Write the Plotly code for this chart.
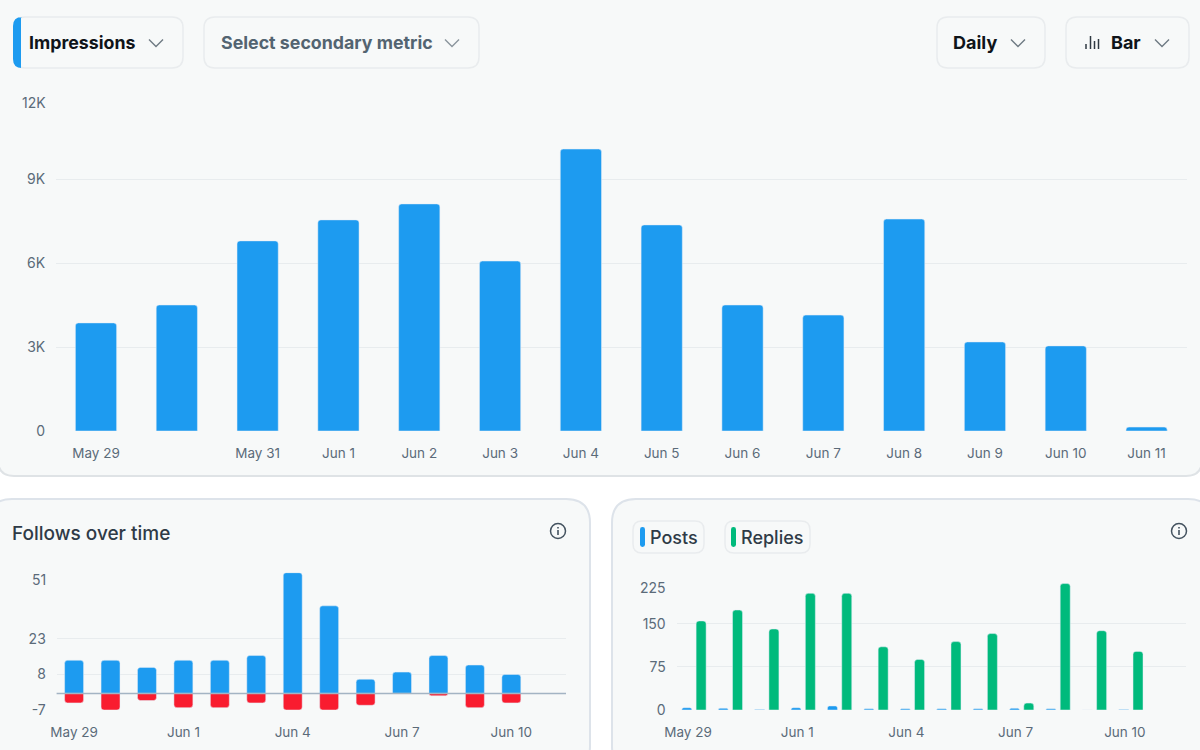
import plotly.graph_objects as go

W = 1200
H = 750

days = ["May 29", "May 30", "May 31", "Jun 1", "Jun 2", "Jun 3", "Jun 4",
        "Jun 5", "Jun 6", "Jun 7", "Jun 8", "Jun 9", "Jun 10", "Jun 11"]

impressions = [3860, 4500, 6790, 7540, 8110, 6070, 10070,
               7360, 4500, 4140, 7570, 3180, 3040, 140]
main_ticks = [d for d in days if d != "May 30"]
main_yticks = [0, 3000, 6000, 9000, 12000]
main_ylabels = ["0", "3K", "6K", "9K", ""]

follows = [14, 14, 11, 14, 14, 16, 51, 37, 6, 9, 16, 12, 8]
unfollows = [-4, -7, -3, -6, -6, -4, -7, -7, -5, 0, -1, -6, -4]
follows_yticks = [-7, 8, 23, 51]
follows_ylabels = ["-7", "8", "23", ""]

posts = [4, 3, 1, 4, 7, 2, 2, 2, 2, 3, 2, 0, 1]
replies = [155, 174, 141, 203, 203, 110, 88, 119, 133, 12, 220, 138, 102]
posts_yticks = [0, 75, 150, 225]
posts_ylabels = ["0", "75", "150", ""]
small_ticks = ["May 29", "Jun 1", "Jun 4", "Jun 7", "Jun 10"]

BLUE = "#1d9bf0"
RED = "#f91c2f"
GREEN = "#00ba7c"
PANEL = "#f7f9f9"
EDGE = "#e9ecee"
GRID = "#e8ecee"
GREY = "#5b6b79"
DARK = "#0f1419"
SLATE = "#2f3b47"
FONT = "Inter"


def px(x):
    return x / W


def py(y):
    return 1 - y / H


def rounded(x0, y0, x1, y1, r):
    # rounded rectangle path, pixel input, paper output
    return (
        f"M {px(x0 + r)} {py(y0)} L {px(x1 - r)} {py(y0)} "
        f"Q {px(x1)} {py(y0)} {px(x1)} {py(y0 + r)} L {px(x1)} {py(y1 - r)} "
        f"Q {px(x1)} {py(y1)} {px(x1 - r)} {py(y1)} L {px(x0 + r)} {py(y1)} "
        f"Q {px(x0)} {py(y1)} {px(x0)} {py(y1 - r)} L {px(x0)} {py(y0 + r)} "
        f"Q {px(x0)} {py(y0)} {px(x0 + r)} {py(y0)} Z"
    )


def box(x0, y0, x1, y1, r, fill, line=EDGE, lw=1.5):
    return dict(type="path", xref="paper", yref="paper", path=rounded(x0, y0, x1, y1, r),
                fillcolor=fill, line=dict(color=line, width=lw), layer="below")


def chevron(cx, cy, color="#6f7a83"):
    path = (f"M {px(cx - 7)} {py(cy - 3.5)} L {px(cx)} {py(cy + 3.5)} "
            f"L {px(cx + 7)} {py(cy - 3.5)}")
    return dict(type="path", xref="paper", yref="paper", path=path,
                line=dict(color=color, width=1.4))


def vline(x, y0, y1, color, width):
    return dict(type="line", xref="paper", yref="paper", x0=px(x), x1=px(x),
                y0=py(y0), y1=py(y1), line=dict(color=color, width=width))


def label(x, y, text, size, color, weight=400, anchor="left"):
    return dict(xref="paper", yref="paper", x=px(x), y=py(y), text=text, showarrow=False,
                xanchor=anchor, yanchor="middle", align=anchor,
                font=dict(family=FONT, size=size, color=color, weight=weight))


def info_icon(cx, cy):
    return [
        dict(type="circle", xref="paper", yref="paper", x0=px(cx - 7.5), x1=px(cx + 7.5),
             y0=py(cy - 7.5), y1=py(cy + 7.5), line=dict(color="#43525f", width=1.5)),
        vline(cx, cy - 1, cy + 4, "#43525f", 1.6),
        vline(cx, cy - 4, cy - 2.6, "#43525f", 1.6),
    ]


fig = go.Figure()

fig.add_bar(x=days, y=impressions, width=0.51, marker=dict(color=BLUE, cornerradius=3),
            xaxis="x", yaxis="y", showlegend=False)

fig.add_bar(x=days[:13], y=follows, width=0.52, marker=dict(color=BLUE, cornerradius=3),
            xaxis="x2", yaxis="y2", showlegend=False)
fig.add_bar(x=days[:13], y=unfollows, width=0.52, marker=dict(color=RED, cornerradius=3),
            xaxis="x2", yaxis="y2", showlegend=False)

fig.add_bar(x=days[:13], y=posts, width=0.275, offset=-0.334,
            marker=dict(color=BLUE, cornerradius=2), xaxis="x3", yaxis="y3", showlegend=False)
fig.add_bar(x=days[:13], y=replies, width=0.275, offset=0.0585,
            marker=dict(color=GREEN, cornerradius=3), xaxis="x3", yaxis="y3", showlegend=False)

x_font = dict(family=FONT, size=13.5, color=GREY)
y_font = dict(family=FONT, size=14, color=GREY)
x_common = dict(type="category", categoryorder="array", categoryarray=days, showgrid=False,
                zeroline=False, showline=False, tickmode="array", ticks="outside",
                ticklen=10, tickcolor="rgba(0,0,0,0)", tickfont=x_font, fixedrange=True,
                automargin=False)
y_common = dict(showgrid=True, gridcolor=GRID, gridwidth=1, zeroline=False, showline=False,
                tickmode="array", ticks="outside", ticklen=7, tickcolor="rgba(0,0,0,0)",
                tickfont=y_font, fixedrange=True, automargin=False)

shapes = [
    box(-2, -20, 1202, 476, 16, PANEL, "#dfe3e6", 2),
    box(-12, 499, 590, 770, 24, PANEL, "#dde3ea", 2),
    box(612, 499, 1212, 770, 24, PANEL, "#dde3ea", 2),
    box(14, 17, 183, 68, 11, PANEL),
    box(204, 17, 479, 68, 11, PANEL),
    box(937, 17, 1045, 68, 11, PANEL),
    box(1066, 17, 1189, 68, 11, PANEL),
    dict(type="path", xref="paper", yref="paper", fillcolor=BLUE, line=dict(width=0),
         path=(f"M {px(21)} {py(17)} L {px(21)} {py(68)} L {px(22)} {py(68)} "
               f"Q {px(13)} {py(68)} {px(13)} {py(59)} L {px(13)} {py(26)} "
               f"Q {px(13)} {py(17)} {px(22)} {py(17)} Z")),
    chevron(156, 43), chevron(452, 43, "#8b959d"), chevron(1018, 43), chevron(1162, 43),
    vline(1086, 44, 49, "#2f3942", 1.5),
    vline(1090.5, 36, 49, "#2f3942", 1.5),
    vline(1094.5, 41, 49, "#2f3942", 1.5),
    vline(1098.5, 39, 49, "#2f3942", 1.5),
    box(633, 521, 704, 553, 9, PANEL),
    box(725, 521, 810, 553, 9, PANEL),
    dict(type="path", xref="paper", yref="paper", fillcolor=BLUE, line=dict(width=0),
         path=rounded(640, 527, 645, 547, 2.4)),
    dict(type="path", xref="paper", yref="paper", fillcolor=GREEN, line=dict(width=0),
         path=rounded(731, 527, 736, 547, 2.4)),
    dict(type="line", xref="x2 domain", yref="y2", x0=0, x1=1, y0=0, y1=0,
         line=dict(color="#a3b4c4", width=1.5)),
]
shapes += info_icon(558, 531) + info_icon(1179, 531)

annotations = [
    label(27, 42, "Impressions", 17.8, DARK, 700),
    label(219, 42, "Select secondary metric", 17.8, "#536471", 700),
    label(951, 42, "Daily", 18, DARK, 700),
    label(1109, 42, "Bar", 18, DARK, 700),
    label(10, 533, "Follows over time", 19, SLATE, 500),
    label(648, 537, "Posts", 18, SLATE, 500),
    label(739, 537, "Replies", 18, SLATE, 500),
    label(48, 102, "12K", 14, GREY, anchor="right"),
    label(48, 579, "51", 14, GREY, anchor="right"),
    label(668, 587, "225", 14, GREY, anchor="right"),
]

fig.update_layout(
    width=W,
    height=H,
    margin=dict(l=0, r=0, t=0, b=0),
    paper_bgcolor="#ffffff",
    plot_bgcolor="rgba(0,0,0,0)",
    barmode="overlay",
    showlegend=False,
    shapes=shapes,
    annotations=annotations,
    xaxis=dict(x_common, domain=[px(56), px(1187)], range=[-0.495, 13.5], anchor="y",
               tickvals=main_ticks, ticktext=main_ticks),
    yaxis=dict(y_common, domain=[py(431), py(95)], range=[0, 12000], anchor="x",
               tickvals=main_yticks, ticktext=main_ylabels),
    xaxis2=dict(x_common, domain=[px(56.6), px(566)], range=[-0.48, 13.5], anchor="y2",
                tickvals=small_ticks, ticktext=small_ticks),
    yaxis2=dict(y_common, domain=[py(710), py(572.7)], range=[-7, 51], anchor="x2",
                tickvals=follows_yticks, ticktext=follows_ylabels),
    xaxis3=dict(x_common, domain=[px(676.5), px(1185.5)], range=[-0.48, 13.5], anchor="y3",
                tickvals=small_ticks, ticktext=small_ticks, ticklabelshift=-6),
    yaxis3=dict(y_common, domain=[py(710), py(580.7)], range=[0, 225], anchor="x3",
                tickvals=posts_yticks, ticktext=posts_ylabels),
)

# the page keeps a default body margin otherwise
fig.write_html("out.html", config={"displayModeBar": False},
               post_script="document.body.style.margin='0';")
